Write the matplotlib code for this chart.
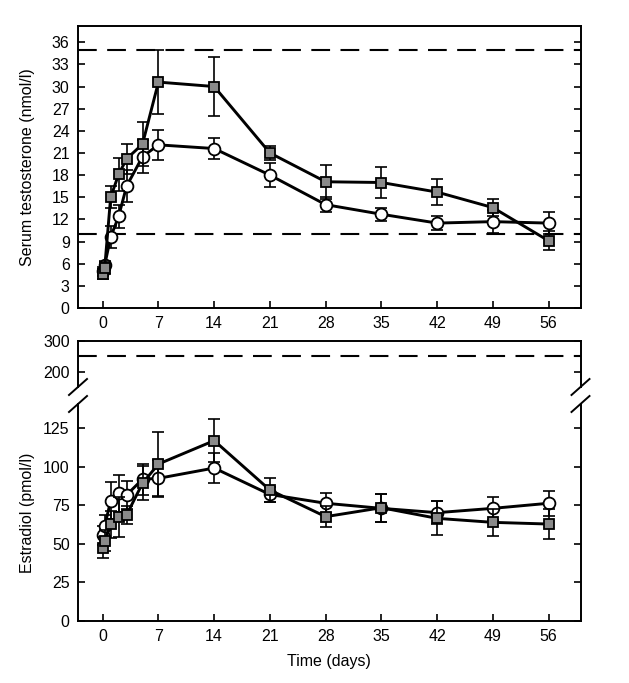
import matplotlib
matplotlib.use("Agg")
import matplotlib.pyplot as plt
from matplotlib.lines import Line2D

plt.rcParams['font.family'] = ['Liberation Sans', 'DejaVu Sans']

# ---- data ----
days = [0, 0.25, 1, 2, 3, 5, 7, 14, 21, 28, 35, 42, 49, 56]
xticks = [0, 7, 14, 21, 28, 35, 42, 49, 56]

testo_sq = [4.6, 5.4, 15.0, 18.1, 20.2, 22.2, 30.6, 30.0, 21.0, 17.1, 17.0, 15.7, 13.6, 9.1]
testo_sq_err = [0.7, 0.8, 1.5, 2.2, 2.0, 3.0, 4.3, 4.0, 1.0, 2.3, 2.1, 1.8, 1.1, 1.3]
testo_ci = [5.0, 5.8, 9.6, 12.4, 16.5, 20.5, 22.1, 21.6, 18.0, 14.0, 12.7, 11.5, 11.7, 11.5]
testo_ci_err = [0.6, 0.6, 1.5, 1.6, 2.2, 2.2, 2.0, 1.4, 1.6, 1.0, 0.9, 0.9, 1.6, 1.5]
testo_refs = [10, 35]

e2_sq = [47.5, 52.0, 62.6, 67.6, 68.7, 89.3, 101.8, 117.0, 84.9, 67.6, 73.4, 66.5, 63.9, 62.8]
e2_sq_err = [7.0, 7.0, 9.0, 13.0, 6.0, 11.0, 21.0, 14.0, 8.0, 7.0, 9.0, 11.0, 9.0, 10.0]
e2_ci = [55.5, 61.5, 77.8, 82.8, 81.7, 91.9, 92.5, 99.2, 82.0, 76.3, 73.0, 70.2, 73.0, 76.3]
e2_ci_err = [6.0, 7.0, 12.0, 12.0, 9.0, 10.0, 12.0, 10.0, 5.0, 6.5, 9.0, 7.6, 7.6, 8.0]
e2_ref = 250

W, H = 629, 683
fig = plt.figure(figsize=(W / 100, H / 100), dpi=100)

def fx(px):
    return px / W

def fy(py):
    return 1 - py / H

L, R = fx(78), fx(580.5)
ax1 = fig.add_axes([L, fy(308), R - L, fy(26) - fy(308)])
ax2 = fig.add_axes([L, fy(387), R - L, fy(341) - fy(387)])
ax3 = fig.add_axes([L, fy(620.7), R - L, fy(404) - fy(620.7)])

FS = 11.5
line_kw = dict(color='black', lw=2.1)
err_kw = dict(ecolor='black', elinewidth=1.2, capsize=4, capthick=1.2)
sq_kw = dict(marker='s', markersize=7.3, markerfacecolor='#8a8a8a', markeredgecolor='black', markeredgewidth=1.3)
ci_kw = dict(marker='o', markersize=8.5, markerfacecolor='white', markeredgecolor='black', markeredgewidth=1.3)

def draw(ax, ci, cie, sq, sqe):
    ax.errorbar(days, ci, yerr=cie, fmt='none', zorder=2, **err_kw)
    ax.plot(days, ci, zorder=3, **line_kw, **ci_kw)
    ax.errorbar(days, sq, yerr=sqe, fmt='none', zorder=4, **err_kw)
    ax.plot(days, sq, zorder=5, **line_kw, **sq_kw)

# top panel
draw(ax1, testo_ci, testo_ci_err, testo_sq, testo_sq_err)
for r in testo_refs:
    ax1.axhline(r, color='black', lw=1.5, dashes=(9, 5), zorder=1)
ax1.set_xlim(-3.1, 60)
ax1.set_ylim(0, 38.2)
ax1.set_yticks(range(0, 37, 3))
ax1.set_xticks(xticks)
ax1.set_ylabel('Serum testosterone (nmol/l)', fontsize=FS, labelpad=6)

# bottom panel, upper part
ax2.axhline(e2_ref, color='black', lw=1.5, dashes=(9, 5), zorder=1)
ax2.set_xlim(-3.1, 60)
ax2.set_ylim(150, 300)
ax2.set_yticks([200, 300])
ax2.set_xticks([])
ax2.spines['bottom'].set_visible(False)

# bottom panel, lower part
draw(ax3, e2_ci, e2_ci_err, e2_sq, e2_sq_err)
ax3.set_xlim(-3.1, 60)
ax3.set_ylim(0, 140.8)
ax3.set_yticks([0, 25, 50, 75, 100, 125])
ax3.set_xticks(xticks)
ax3.spines['top'].set_visible(False)
ax3.set_xlabel('Time (days)', fontsize=FS, labelpad=7)
ax3.set_ylabel('Estradiol (pmol/l)', fontsize=FS, labelpad=6)

for ax in (ax1, ax2, ax3):
    ax.tick_params(direction='in', length=5, width=1.2, labelsize=FS, pad=6,
                   left=True, right=True)
    for s in ax.spines.values():
        s.set_linewidth(1.4)

# align y labels
ax1.yaxis.set_label_coords(-0.085, 0.5)
ax3.yaxis.set_label_coords(-0.085, 0.5)

# break marks
for xpx in (78, 580.5):
    for ypx in (387, 404):
        fig.add_artist(Line2D([fx(xpx - 9), fx(xpx + 9)], [fy(ypx + 8), fy(ypx - 8)],
                              color='black', lw=1.4))

fig.savefig('out.png', dpi=100)
